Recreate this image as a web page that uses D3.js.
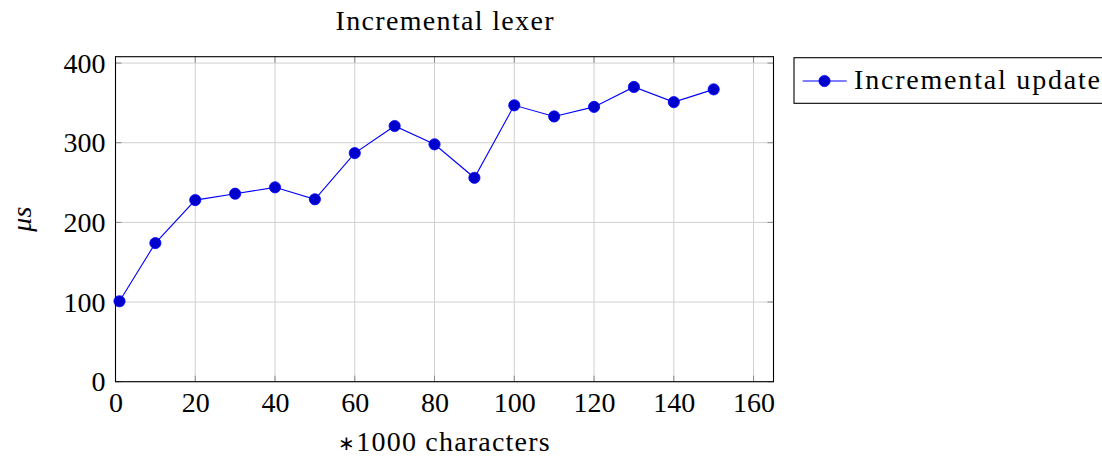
<!DOCTYPE html>
<html><head><meta charset="utf-8">
<script src="https://cdn.jsdelivr.net/npm/d3@7"></script>
<style>
body{margin:0;background:#fff;}
svg text{font-family:"Liberation Serif","Times New Roman",serif;fill:#000;}
</style></head>
<body><svg id="c" width="1102" height="456"></svg>
<script>
const xValues = [1,10,20,30,40,50,60,70,80,90,100,110,120,130,140,150];
const yValues = [101,174,228,236,244,229,287,321,298,256,347,333,345,370,351,367];
const xTicks = [0,20,40,60,80,100,120,140,160];
const yTicks = [0,100,200,300,400];
const title = "Incremental lexer";
const xLabelStar = "\u2217";
const xLabel = "1000 characters";
const yLabel = "\u03BCs";
const seriesName = "Incremental update";

const svg = d3.select("#c");
const L=115.5, R=773.5, T=56.7, B=381.7;
const x = d3.scaleLinear().domain([0,165]).range([L,R]);
const y = d3.scaleLinear().domain([0,408]).range([B,T]);
const fs = 28;

// grid
const g = svg.append("g");
g.selectAll(".gx").data(xTicks).join("line")
  .attr("x1",d=>x(d)).attr("x2",d=>x(d)).attr("y1",T).attr("y2",B)
  .attr("stroke","#d0d0d0").attr("stroke-width",1);
g.selectAll(".gy").data(yTicks).join("line")
  .attr("y1",d=>y(d)).attr("y2",d=>y(d)).attr("x1",L).attr("x2",R)
  .attr("stroke","#d0d0d0").attr("stroke-width",1);

// tick marks inside, all four sides
const tl=6, tc="#8a8a8a";
xTicks.forEach(d=>{
  g.append("line").attr("x1",x(d)).attr("x2",x(d)).attr("y1",B).attr("y2",B-tl).attr("stroke",tc);
  g.append("line").attr("x1",x(d)).attr("x2",x(d)).attr("y1",T).attr("y2",T+tl).attr("stroke",tc);
});
yTicks.forEach(d=>{
  g.append("line").attr("y1",y(d)).attr("y2",y(d)).attr("x1",L).attr("x2",L+tl).attr("stroke",tc);
  g.append("line").attr("y1",y(d)).attr("y2",y(d)).attr("x1",R).attr("x2",R-tl).attr("stroke",tc);
});

// axes via d3 axis for labels
const xAxis = d3.axisBottom(x).tickValues(xTicks).tickSize(0).tickPadding(0).tickFormat(d3.format("d"));
const xa = svg.append("g").attr("transform",`translate(0,${B})`).call(xAxis);
xa.select(".domain").remove();
xa.selectAll("text").attr("font-size",fs).attr("font-family","Liberation Serif").attr("dy",null).attr("y",30);

const yAxis = d3.axisLeft(y).tickValues(yTicks).tickSize(0).tickPadding(0).tickFormat(d3.format("d"));
const ya = svg.append("g").attr("transform",`translate(${L},0)`).call(yAxis);
ya.select(".domain").remove();
ya.selectAll("text").attr("font-size",fs).attr("font-family","Liberation Serif").attr("x",-10).attr("dy","0.33em");

// frame
svg.append("rect").attr("x",L).attr("y",T).attr("width",R-L).attr("height",B-T)
  .attr("fill","none").attr("stroke","#000").attr("stroke-width",1.1);

// series
const pts = xValues.map((v,i)=>[v,yValues[i]]);
svg.append("path").datum(pts)
  .attr("d",d3.line().x(d=>x(d[0])).y(d=>y(d[1])))
  .attr("fill","none").attr("stroke","#0000ff").attr("stroke-width",1.1);
svg.selectAll(".pt").data(pts).join("circle")
  .attr("cx",d=>x(d[0])).attr("cy",d=>y(d[1])).attr("r",5.6)
  .attr("fill","#0000cc").attr("stroke","#0000ff").attr("stroke-width",0.8);

// title and labels
svg.append("text").attr("x",(L+R)/2).attr("y",30).attr("text-anchor","middle")
  .attr("font-size",fs).attr("textLength",218).attr("lengthAdjust","spacing").text(title);
const xl = svg.append("text").attr("x",(L+R)/2).attr("y",451).attr("text-anchor","middle")
  .attr("font-size",fs).attr("letter-spacing",1.2);
xl.append("tspan").attr("font-size",20).attr("dy",-1).text(xLabelStar);
xl.append("tspan").attr("dy",1).text(xLabel);
svg.append("text").attr("transform",`translate(31,${(T+B)/2}) rotate(-90)`)
  .attr("text-anchor","middle").attr("font-size",fs).attr("font-style","italic").text(yLabel);

// legend
const lg = svg.append("g");
lg.append("rect").attr("x",794).attr("y",57.7).attr("width",340).attr("height",45.6)
  .attr("fill","#fff").attr("stroke","#000").attr("stroke-width",1.1);
lg.append("line").attr("x1",802.7).attr("x2",846.7).attr("y1",81).attr("y2",81)
  .attr("stroke","#0000ff").attr("stroke-width",1.1);
lg.append("circle").attr("cx",824.5).attr("cy",81).attr("r",5.6)
  .attr("fill","#0000cc").attr("stroke","#0000ff").attr("stroke-width",0.8);
lg.append("text").attr("x",854).attr("y",89).attr("font-size",fs)
  .attr("textLength",246).attr("lengthAdjust","spacing").text(seriesName);
</script></body></html>
